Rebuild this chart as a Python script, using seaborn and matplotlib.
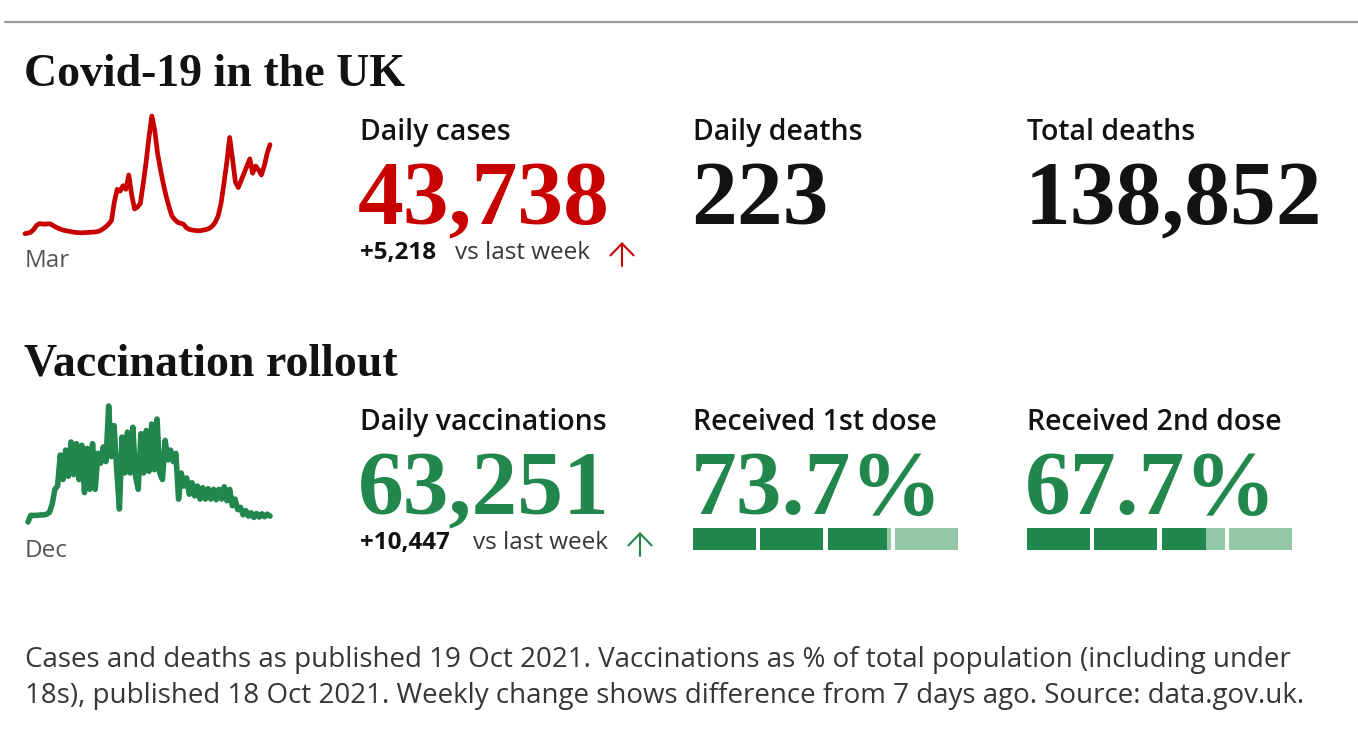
import numpy as np
import pandas as pd
import matplotlib.pyplot as plt
from matplotlib.patches import FancyArrowPatch
import seaborn as sns

sns.set_theme(style="white")
plt.rcParams['font.family'] = ['Open Sans', 'DejaVu Sans']

# weekly daily-case figures (thousands), Mar 2020 - Oct 2021
cases_k = [0.2, 0.5, 1.0, 2.5, 4.8, 5.8, 5.6, 5.5, 5.7, 5.5, 4.5, 3.6, 2.9, 2.3, 1.9,
           1.6, 1.3, 1.0, 0.8, 0.7, 0.7, 0.8, 0.9, 1.0, 1.1, 1.3, 1.8, 2.8, 4.0, 5.5,
           7.5, 18, 25, 24, 27, 25, 33, 22, 14, 15, 17, 28, 40, 54, 66, 58, 45, 36,
           28, 21, 15, 10, 8, 6.5, 6, 5.5, 3.5, 2.6, 2.2, 2.0, 1.8, 1.9, 2.2, 2.6,
           3.2, 4.5, 6.5, 10, 17, 28, 40, 54, 42, 29, 26, 30, 34, 38, 42, 34, 38,
           36, 33, 38, 45, 50]

# daily vaccinations (thousands), sampled twice a week from Dec 2020
vacc_k = [0, 48, 48, 48, 50, 52, 52, 57, 71, 131, 238, 262, 488, 309, 524, 333,
          583, 345, 571, 309, 559, 214, 536, 238, 571, 238, 500, 428, 547, 440,
          845, 476, 702, 381, 95, 619, 357, 655, 357, 690, 333, 238, 643, 357,
          666, 369, 714, 381, 750, 357, 309, 595, 452, 524, 440, 500, 167, 357,
          262, 321, 202, 286, 190, 262, 167, 250, 167, 243, 167, 238, 162, 238,
          167, 257, 155, 238, 119, 167, 90, 107, 52, 83, 43, 67, 33, 62, 36, 60,
          38, 57, 43]

headline_labels = ["Daily cases", "Daily deaths", "Total deaths"]
headline_values = ["43,738", "223", "138,852"]
vacc_labels = ["Daily vaccinations", "Received 1st dose", "Received 2nd dose"]
vacc_values = ["63,251", "73.7%", "67.7%"]
dose_pct = [73.7, 67.7]
cases_change = "+5,218"
vacc_change = "+10,447"
footnote = ["Cases and deaths as published 19 Oct 2021. Vaccinations as % of total population (including under",
            "18s), published 18 Oct 2021. Weekly change shows difference from 7 days ago. Source: data.gov.uk."]

RED = "#c70000"
GREEN = "#22874d"
LIGHT_GREEN = "#92c6a5"
INK = "#121212"
GREY = "#363636"

W, H = 1358, 750
fig = plt.figure(figsize=(W / 100, H / 100), dpi=100)
SERIF = ['Liberation Serif', 'DejaVu Serif']


def put(x, y, s, **kw):
    # x, y in pixels from the top-left, y is the baseline
    fig.text(x / W, 1 - y / H, s, va='baseline', ha='left', **kw)


def box(x0, y0, x1, y1):
    return fig.add_axes([x0 / W, 1 - y1 / H, (x1 - x0) / W, (y1 - y0) / H])


def arrow(x, ytop, ybot, color):
    fig.add_artist(FancyArrowPatch((x / W, 1 - ybot / H), (x / W, 1 - ytop / H),
                                   transform=fig.transFigure,
                                   arrowstyle='->,head_length=0.33,head_width=0.32',
                                   shrinkA=0, shrinkB=0,
                                   color=color, lw=1.5, mutation_scale=26))


# top rule
fig.add_artist(plt.Line2D([5 / W, 1], [1 - 22 / H, 1 - 22 / H], color="#9a9a9a", lw=1.6))

cols = [360, 693, 1027]
for row, (title, labels, values, colour) in enumerate([
        ("Covid-19 in the UK", headline_labels, headline_values, [RED, INK, INK]),
        ("Vaccination rollout", vacc_labels, vacc_values, [GREEN, GREEN, GREEN])]):
    dy = row * 290
    put(24, 86 + dy, title, family=SERIF, weight='bold', fontsize=33, color=INK)
    for x, lab, val, c in zip(cols, labels, values, colour):
        put(x, 140 + dy, lab, fontsize=20.5, weight='semibold', color=INK)
        put(x - 2, 224 + dy, val, family=SERIF, weight='bold', fontsize=66, color=c)

# weekly change lines
put(360, 259, cases_change, fontsize=17.5, weight='bold', color=INK)
put(455, 259, "vs last week", fontsize=17.5, color=GREY)
arrow(622, 242, 266, RED)
put(360, 549, vacc_change, fontsize=17.5, weight='bold', color=INK)
put(473, 549, "vs last week", fontsize=17.5, color=GREY)
arrow(640, 532, 556, GREEN)

# sparklines
case_dates = pd.date_range("2020-03-01", periods=len(cases_k), freq="7D")
ax = box(25, 116, 270, 234)
sns.lineplot(x=case_dates, y=cases_k, ax=ax, color=RED, lw=3.4, clip_on=False)
ax.set_xlim(case_dates[0], case_dates[-1])
ax.set_ylim(0, max(cases_k))
ax.axis('off')
put(25, 267, "Mar", fontsize=17.5, color="#555555")

vacc_dates = pd.date_range("2020-12-08", periods=len(vacc_k), freq="84h")
ax = box(28, 406, 270, 522)
sns.lineplot(x=vacc_dates, y=vacc_k, ax=ax, color=GREEN, lw=4.0, clip_on=False)
ax.set_xlim(vacc_dates[0], vacc_dates[-1])
ax.set_ylim(0, max(vacc_k))
ax.axis('off')
put(25, 557, "Dec", fontsize=17.5, color="#555555")

# dose progress bars: four segments, each one a quarter of the population
gap = 1.6
seg = (100 - 3 * gap) / 4
for x0, pct in zip([693, 1027], dose_pct):
    ax = box(x0, 528, x0 + 265, 550)
    for k in range(4):
        left = k * (seg + gap)
        ax.barh(0, seg, left=left, height=1, color=LIGHT_GREEN, lw=0)
        share = min(max((pct - 25 * k) / 25, 0), 1)
        if share > 0:
            ax.barh(0, share * seg, left=left, height=1, color=GREEN, lw=0)
    ax.set_xlim(0, 100)
    ax.set_ylim(-0.5, 0.5)
    ax.axis('off')

# footnote
put(25, 667, footnote[0], fontsize=20, color=GREY)
put(25, 703, footnote[1], fontsize=20, color=GREY)

fig.savefig("out.png", dpi=100, facecolor="white")
